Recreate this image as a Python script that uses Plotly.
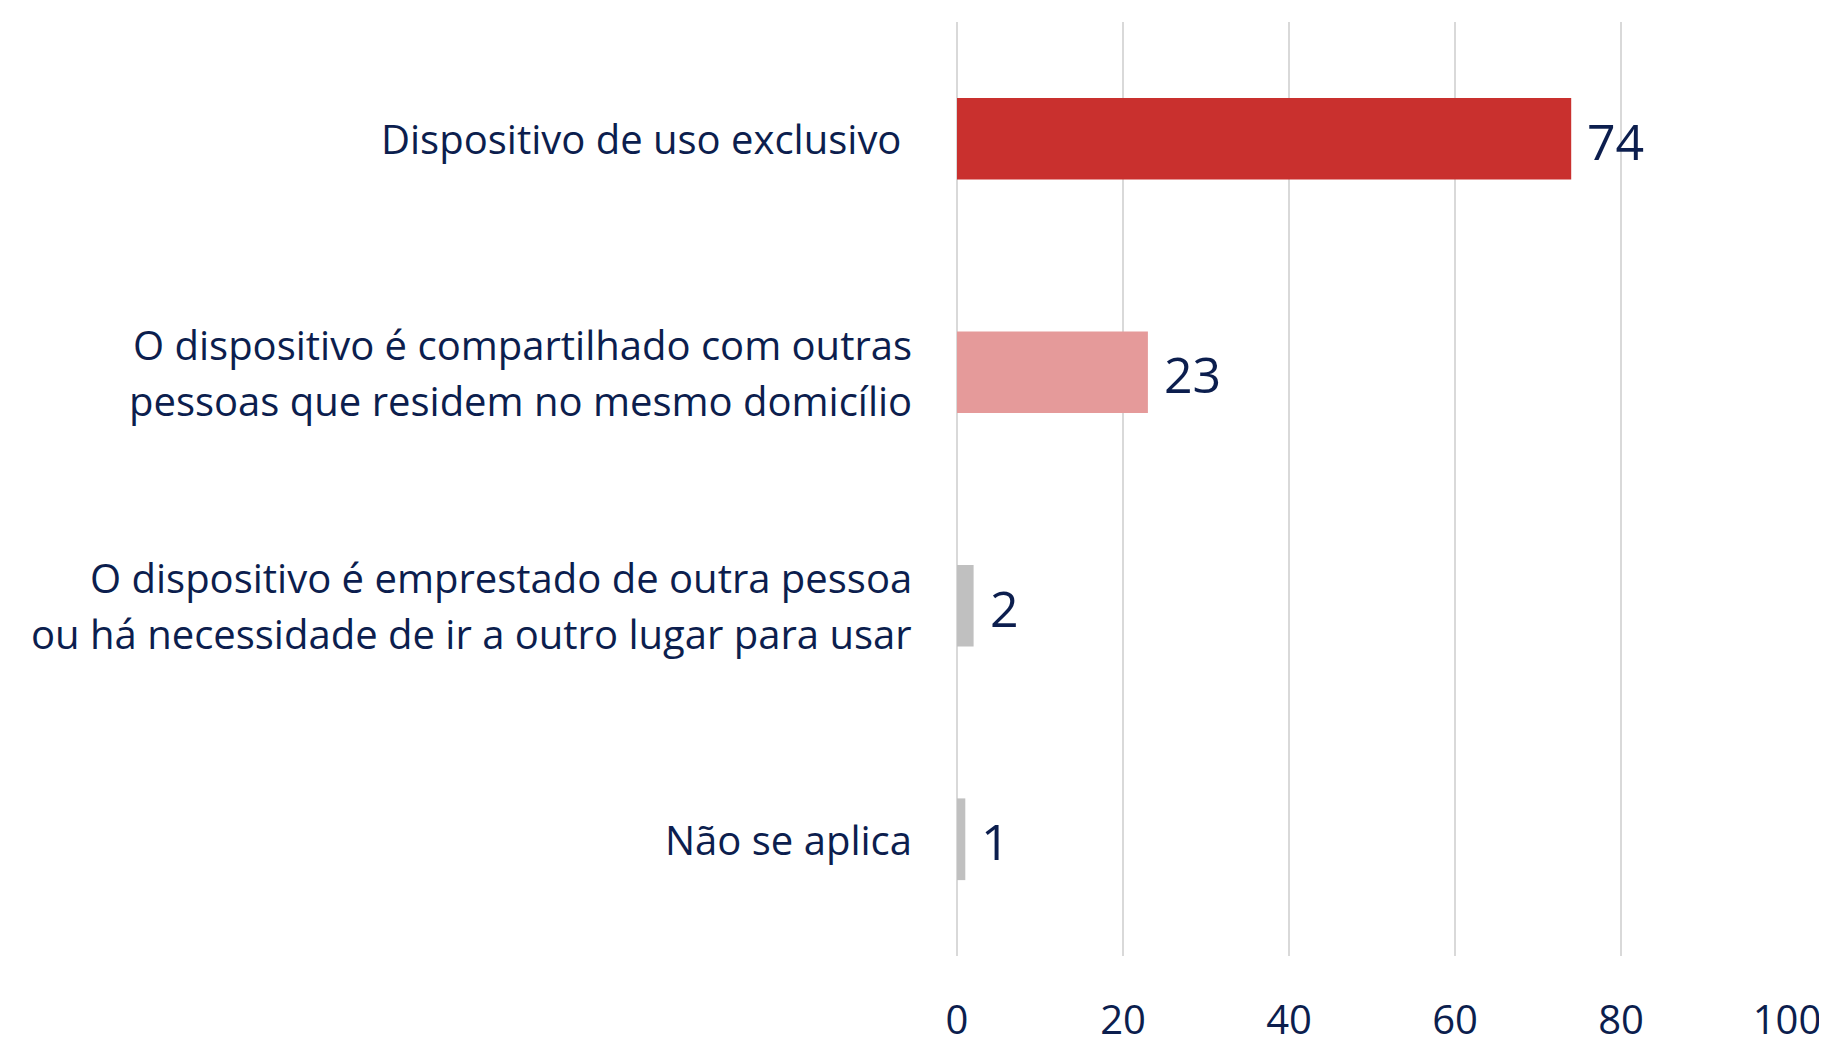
import plotly.graph_objects as go

categories = [
    "Dispositivo de uso exclusivo\u00a0",
    "O dispositivo é compartilhado com outras<br>pessoas que residem no mesmo domicílio",
    "O dispositivo é emprestado de outra pessoa<br>ou há necessidade de ir a outro lugar para usar",
    "Não se aplica",
]
values = [74, 23, 2, 1]
colors = ["#C9302E", "#E59A9A", "#C0C0C0", "#C0C0C0"]
tick_vals = [0, 20, 40, 60, 80, 100]

TEXT = "#0C1E4E"
FONT = "Open Sans"
LINE_GAP = 56

fig = go.Figure()
fig.add_trace(go.Bar(
    x=values,
    y=list(range(len(categories))),
    orientation="h",
    marker=dict(color=colors, line=dict(width=0)),
    width=0.35,
    hoverinfo="skip",
))

annotations = []
for i, (c, v) in enumerate(zip(categories, values)):
    lines = c.split("<br>")
    n = len(lines)
    for k, line in enumerate(lines):
        offset = (k - (n - 1) / 2) * LINE_GAP
        annotations.append(dict(
            x=0, xref="paper", y=i, yref="y", text=line, showarrow=False,
            xanchor="right", yanchor="middle", align="center",
            xshift=-43, yshift=-offset,
            font=dict(family=FONT, size=40, color=TEXT),
        ))
    annotations.append(dict(
        x=v, xref="x", y=i, yref="y", text=str(v), showarrow=False,
        xanchor="left", yanchor="middle", xshift=14, yshift=-2,
        font=dict(family=FONT, size=50, color=TEXT),
    ))

fig.update_layout(
    width=1827, height=1038,
    margin=dict(l=949, r=48, t=14, b=90, autoexpand=False),
    paper_bgcolor="white", plot_bgcolor="white",
    showlegend=False,
    annotations=annotations,
    xaxis=dict(
        range=[0, 100], tickvals=tick_vals, ticktext=[str(t) for t in tick_vals],
        showgrid=True, gridcolor="#D9D9D9", gridwidth=2,
        zeroline=True, zerolinecolor="#D9D9D9", zerolinewidth=2,
        showline=False, ticks="",
        tickfont=dict(family=FONT, size=40, color=TEXT),
        ticklabelstandoff=37, automargin=False,
        fixedrange=True,
    ),
    yaxis=dict(
        range=[3.5, -0.5], showticklabels=False, showgrid=False,
        zeroline=False, showline=False, ticks="", fixedrange=True,
        automargin=False,
    ),
)

fig.write_html("out.html")
